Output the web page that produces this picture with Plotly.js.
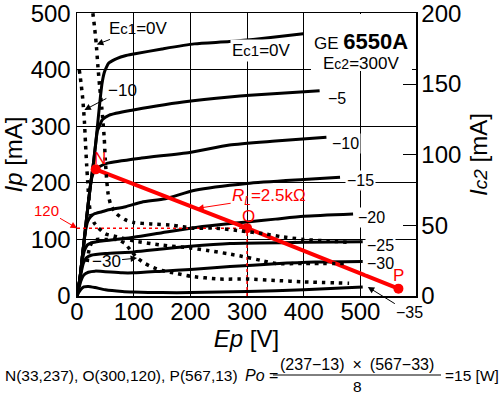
<!DOCTYPE html>
<html><head><meta charset="utf-8">
<script src="https://cdn.plot.ly/plotly-3.0.1.min.js"></script>
<style>html,body{margin:0;padding:0;background:#fff}#g{width:502px;height:399px}</style>
</head><body><div id="g"></div>
<script>
// ---- plate current curves Ip [mA] vs Ep [V] (solid), per grid voltage Ec1 ----
const ec1_0_ep  = [0,5,10,15,20,25,29,33,36,40,44,48,52,56,62,70,85,100,150,207,269,330,399];
const ec1_0_ip  = [0,30,75,120,165,205,235,270,300,340,375,395,405,412,416,420,425,428,437,446,450,456,464];
const ec1_5_ep  = [0,5,10,15,20,25,29,33,36,40,45,57,99,140,187,269,305,428];
const ec1_5_ip  = [0,30,75,120,165,205,235,270,292,302,312,320,329,336,343,352,355,363];
const ec1_10_ep = [0,5,10,15,20,25,29,33,40,54,114,199,269,350,440];
const ec1_10_ip = [0,30,75,120,165,205,218,224,229,235,244,254,267,274,281];
const ec1_15_ep = [0,5,10,15,19,24,30,44,54,86,114,156,208,300,400,464];
const ec1_15_ip = [0,30,75,115,132,140,145,149,152,158,166,172,187,199,206,210];
const ec1_20_ep = [0,5,9,13,18,25,40,60,100,150,200,250,300,350,400,487];
const ec1_20_ip = [0,30,60,80,90,94,97,99,104,112,120,126,131,136,141,145];
const ec1_25_ep = [0,4,8,12,17,25,50,100,150,200,270,400,504];
const ec1_25_ip = [0,22,45,60,68,72,75,78,83,88,93,95,96];
const ec1_30_ep = [0,3,7,12,20,32,50,80,100,150,200,270,350,420,504];
const ec1_30_ip = [0,12,27,37,42,44,43,41,41,44,47,52,57,60,61];
const ec1_35_ep = [0,3,7,12,20,32,50,80,100,150,200,300,400,504];
const ec1_35_ip = [0,6,12,16,17,15,11,8,7,6,6,8,11,16];

// ---- screen current curves Ic2 [mA] vs Ep [V] (dotted, right axis) ----
const ic2_0_ep  = [26,28,31,34,37,40,44,48,50,52,55,60,70,85,100,130,170,205,245,290,330,360,400,440,480];
const ic2_0_ma  = [206,200,190,178,162,148,132,112,96,84,72,64,58,54,52,51,50,48,48,46,44,42,40,39,38];
const ic2_10_ep = [4,7,10,13,15,17,19,21,24,30,38,50,70,100,150,200,233,265,292,327,351,400,480];
const ic2_10_ma = [160,151,140,124,108,93,80,68,58,52,48,44,42,39,36,34,32,30,28,25,23,23,23];
const ic2_30_ep = [18,22,28,35,50,70,85,95,106,120,135,150,175,200,250,300,350,400,480];
const ic2_30_ma = [24,34,39,40,40,40,37,32,27,23,20,18,16,14,12,12,11,10,9];

// ---- load line N, O, P ----
const loadEp = [33,300,567];
const loadIp = [224,120,13];
const loadNames = ['N','O','P'];

// ---- axis ticks ----
const xTicks = [0,100,200,300,400,500];
const yTicks = [0,100,200,300,400,500];
const y2Ticks = [0,50,100,150,200];

const L=77, R=86, T=13, B=103, W=502, H=399;
const PW=W-L-R, PH=H-T-B;
const px = x => (x-L)/PW;
const py = y => (H-B-y)/PH;

const FONT = '"Liberation Sans", Arial, sans-serif';

function solid(ep, ip){ return {x:ep, y:ip, type:'scatter', mode:'lines', line:{color:'#000', width:3, shape:'spline', smoothing:0.6}, hoverinfo:'skip', showlegend:false}; }
function dotted(ep, ma){ return {x:ep, y:ma, yaxis:'y2', type:'scatter', mode:'lines', line:{color:'#000', width:3.5, dash:'3.5px,5px', shape:'spline', smoothing:0.6}, hoverinfo:'skip', showlegend:false}; }

const traces = [
  solid(ec1_0_ep, ec1_0_ip), solid(ec1_5_ep, ec1_5_ip), solid(ec1_10_ep, ec1_10_ip),
  solid(ec1_15_ep, ec1_15_ip), solid(ec1_20_ep, ec1_20_ip), solid(ec1_25_ep, ec1_25_ip),
  solid(ec1_30_ep, ec1_30_ip), solid(ec1_35_ep, ec1_35_ip),
  dotted(ic2_0_ep, ic2_0_ma), dotted(ic2_10_ep, ic2_10_ma), dotted(ic2_30_ep, ic2_30_ma),
  {x:[0, loadEp[1]], y:[loadIp[1], loadIp[1]], mode:'lines', line:{color:'#ff0000', width:1.5, dash:'dot'}, showlegend:false, hoverinfo:'skip'},
  {x:[loadEp[1], loadEp[1]], y:[0, loadIp[1]], mode:'lines', line:{color:'#ff0000', width:1.5, dash:'dot'}, showlegend:false, hoverinfo:'skip'},
  {x:loadEp, y:loadIp, mode:'lines+markers', line:{color:'#ff0000', width:4}, marker:{color:'#ff0000', size:10}, showlegend:false, hoverinfo:'skip', cliponaxis:false}
];

const ann = [];
function lab(x, y, text, opts){ ann.push(Object.assign({x:x, y:y, xref:'x', yref:'y', xanchor:'center', yanchor:'middle', text:text, showarrow:false, font:{family:FONT, size:16, color:'#000'}}, opts||{})); }
function arr(x, y, ax, ay, text, color, size){ ann.push({x:x, y:y, xref:'x', yref:'y', ax:ax, ay:ay, text:text, showarrow:true, arrowhead:2, arrowsize:1.3, arrowwidth:1, arrowcolor:color, font:{family:FONT, size:size, color:color}}); }
function ptext(x, y, text, font, xanchor){ ann.push({xref:'paper', yref:'paper', x:px(x), y:py(y), xanchor:xanchor||'center', yanchor:'middle', text:text, showarrow:false, font:font}); }

// curve labels at the right
lab(326, 435, 'E<span style="font-size:15px">c1</span>=0V', {font:{family:FONT,size:17,color:'#000'}, bgcolor:'#fff'});
lab(440, 350, '−5', {xanchor:'left', bgcolor:'#fff'});
lab(446, 270, '−10', {xanchor:'left', bgcolor:'#fff'});
lab(472, 205, '−15', {xanchor:'left', bgcolor:'#fff'});
lab(493, 138, '−20', {xanchor:'left', bgcolor:'#fff'});
lab(508, 90, '−25', {xanchor:'left', bgcolor:'#fff'});
lab(508, 58, '−30', {xanchor:'left', bgcolor:'#fff'});
arr(513, 16, 42, 26, '−35', '#000', 16);
arr(35, 445, 42, -16, 'E<span style="font-size:15px">c1</span>=0V', '#000', 17);
arr(13, 329, 38, -20, '−10', '#000', 17);
arr(106, 67, -31, 3, '−30', '#000', 17);
// red labels
arr(212, 155, 72, -11, '<i>R<sub>L</sub></i>=2.5kΩ', '#ff0000', 17);
ann.push({x:0, y:120, xref:'x', yref:'y', ax:-31, ay:-18, text:'120', showarrow:true, arrowhead:2, arrowsize:1.3, arrowwidth:1, arrowcolor:'#ff0000', font:{family:FONT, size:15, color:'#ff0000'}});
lab(40, 244, loadNames[0], {font:{family:FONT,size:17,color:'#ff0000'}});
lab(303, 140, loadNames[1], {font:{family:FONT,size:17,color:'#ff0000'}});
lab(568, 37, loadNames[2], {font:{family:FONT,size:17,color:'#ff0000'}});

// title box
ptext(361, 42, 'GE <b style="font-size:22px">6550A</b>', {family:FONT, size:17, color:'#000'});
ptext(361, 63, 'E<span style="font-size:14px">c2</span>=300V', {family:FONT, size:17, color:'#000'});

// bottom formula
const bf = {family:FONT, size:15.5, color:'#000'};
ptext(3, 375, 'N(33,237), O(300,120), P(567,13)', bf, 'left');
ptext(243, 375, '<i>Po</i> =', {family:FONT,size:16,color:'#000'}, 'left');
ptext(357, 364, '(237−13)\u2002×\u2002(567−33)', {family:FONT,size:16,color:'#000'});
ptext(357, 386, '8', bf);
ptext(443, 375, '=15 [W]', bf, 'left');

const shapes = [
  {type:'rect', xref:'paper', yref:'paper', x0:px(311), x1:px(412), y0:py(71), y1:py(14), fillcolor:'#fff', line:{width:0}, layer:'above'},
  {type:'line', xref:'paper', yref:'paper', x0:px(273), x1:px(441), y0:py(375), y1:py(375), line:{color:'#000', width:1}}
];

const layout = {
  width:W, height:H, margin:{l:L, r:R, t:T, b:B, pad:0},
  paper_bgcolor:'#fff', plot_bgcolor:'#fff', showlegend:false,
  font:{family:FONT, size:24, color:'#000'},
  xaxis:{range:[0,598], tickvals:xTicks, ticktext:xTicks.map(String), showgrid:true, gridcolor:'#000', gridwidth:1,
         zeroline:false, showline:true, linecolor:'#000', linewidth:1.5, mirror:true, ticks:'', ticklabelstandoff:-6,
         ticklabeloverflow:'allow',
         tickfont:{family:FONT, size:24, color:'#000'},
         title:{text:'<i>Ep</i> [V]', font:{family:FONT, size:24, color:'#000'}, standoff:1}},
  yaxis:{range:[0,500.6], tickvals:yTicks, ticktext:yTicks.map(String), showgrid:true, gridcolor:'#000', gridwidth:1,
         zeroline:false, showline:true, linecolor:'#000', linewidth:1.5, ticks:'', ticklabeloverflow:'allow',
         tickfont:{family:FONT, size:24, color:'#000'},
         title:{text:'<i>Ip</i> [mA]', font:{family:FONT, size:24, color:'#000'}, standoff:4}},
  yaxis2:{range:[0,200.24], overlaying:'y', side:'right', tickvals:y2Ticks, ticktext:y2Ticks.map(String), showgrid:false,
          zeroline:false, showline:true, linecolor:'#000', linewidth:1.5, ticks:'inside', ticklen:13, tickcolor:'#000', tickwidth:1,
          ticklabelstandoff:-1, ticklabeloverflow:'allow',
          tickfont:{family:FONT, size:24, color:'#000'},
          title:{text:'<i>I<span style="font-size:19px">c2</span></i> [mA]', font:{family:FONT, size:24, color:'#000'}, standoff:10}},
  annotations:ann, shapes:shapes
};
Plotly.newPlot('g', traces, layout, {staticPlot:true, displayModeBar:false});
</script></body></html>
